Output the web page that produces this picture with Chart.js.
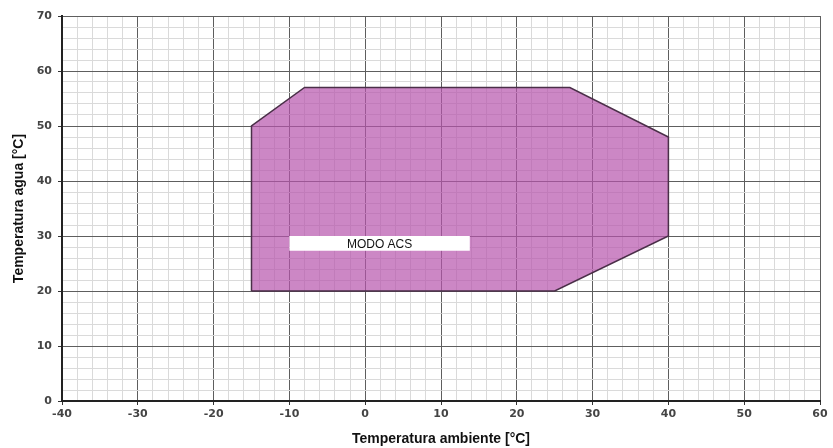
<!DOCTYPE html>
<html>
<head>
<meta charset="utf-8">
<script src="https://cdn.jsdelivr.net/npm/chart.js"></script>
<style>
  html, body { margin: 0; padding: 0; background: #fff; }
  #wrap { width: 833px; height: 448px; }
</style>
</head>
<body>
<div id="wrap"><canvas id="chart"></canvas></div>
<script>
// operating envelope (ambient temp, water temp)
const zoneX = [-15, -15, -8, 27, 40, 40, 25, -15];
const zoneY = [20, 50, 57, 57, 48, 30, 20, 20];

// white label box inside the zone
const boxX = [-10, 13.8, 13.8, -10, -10];
const boxY = [27.3, 27.3, 30, 30, 27.3];
const boxText = 'MODO ACS';

const xTicks = [-40, -30, -20, -10, 0, 10, 20, 30, 40, 50, 60];
const yTicks = [0, 10, 20, 30, 40, 50, 60, 70];

const toPts = (xs, ys) => xs.map((x, i) => ({ x, y: ys[i] }));

const isMajor = v => v % 10 === 0;
const gridColor = c => isMajor(c.tick.value) ? '#5e5e5e' : '#dadada';
const tickColor = c => isMajor(c.tick.value) ? '#333' : 'rgba(0,0,0,0)';

const boxLabel = {
    id: 'boxLabel',
    afterDatasetsDraw(chart) {
        const { ctx, scales: { x, y } } = chart;
        const cx = (x.getPixelForValue(Math.min(...boxX)) + x.getPixelForValue(Math.max(...boxX))) / 2;
        const cy = (y.getPixelForValue(Math.min(...boxY)) + y.getPixelForValue(Math.max(...boxY))) / 2;
        ctx.save();
        ctx.fillStyle = '#111';
        ctx.font = '12px "Liberation Sans", Arial, sans-serif';
        ctx.textAlign = 'center';
        ctx.textBaseline = 'middle';
        ctx.fillText(boxText, cx, cy + 1);
        ctx.restore();
    }
};

new Chart(document.getElementById('chart'), {
    type: 'scatter',
    data: {
        datasets: [{
            data: toPts(boxX, boxY), order: 0,
            showLine: true, tension: 0,
            borderColor: '#fff', borderWidth: 0,
            backgroundColor: '#fff',
            fill: 'shape', pointRadius: 0
        }, {
            data: toPts(zoneX, zoneY), order: 1,
            showLine: true, tension: 0,
            borderColor: '#4a2f48', borderWidth: 1.5,
            backgroundColor: 'rgba(182,84,172,0.7)',
            fill: 'shape', pointRadius: 0
        }]
    },
    options: {
        responsive: true, maintainAspectRatio: false, animation: false,
        layout: { padding: { left: 0, right: 13, top: 16, bottom: 0 } },
        plugins: { legend: { display: false }, tooltip: { enabled: false } },
        scales: {
            x: {
                type: 'linear', min: -40, max: 60,
                afterFit: s => { s.height = 47; },
                ticks: {
                    stepSize: 2, autoSkip: false, maxRotation: 0, padding: 3,
                    color: '#444', font: { family: '"DejaVu Sans"', size: 11, weight: 'bold' },
                    callback: v => xTicks.includes(v) ? v : ''
                },
                grid: { color: gridColor, tickColor: tickColor, tickLength: 4, lineWidth: 1 },
                border: { color: '#222', width: 2 },
                title: {
                    display: true, text: 'Temperatura ambiente [°C]', color: '#111',
                    font: { family: '"Liberation Sans", Arial', size: 14, weight: 'bold' },
                    padding: { top: 4, bottom: 0 }
                }
            },
            y: {
                type: 'linear', min: 0, max: 70,
                afterFit: s => { s.width = 62; },
                ticks: {
                    stepSize: 2, autoSkip: false, padding: 6,
                    color: '#444', font: { family: '"DejaVu Sans"', size: 11, weight: 'bold' },
                    callback: v => yTicks.includes(v) ? v : ''
                },
                grid: { color: gridColor, tickColor: tickColor, tickLength: 4, lineWidth: 1 },
                border: { color: '#222', width: 2 },
                title: {
                    display: true, text: 'Temperatura agua [°C]', color: '#111',
                    font: { family: '"Liberation Sans", Arial', size: 14, weight: 'bold' },
                    padding: { top: 11, bottom: 0 }
                }
            }
        }
    },
    plugins: [boxLabel]
});
</script>
</body>
</html>
